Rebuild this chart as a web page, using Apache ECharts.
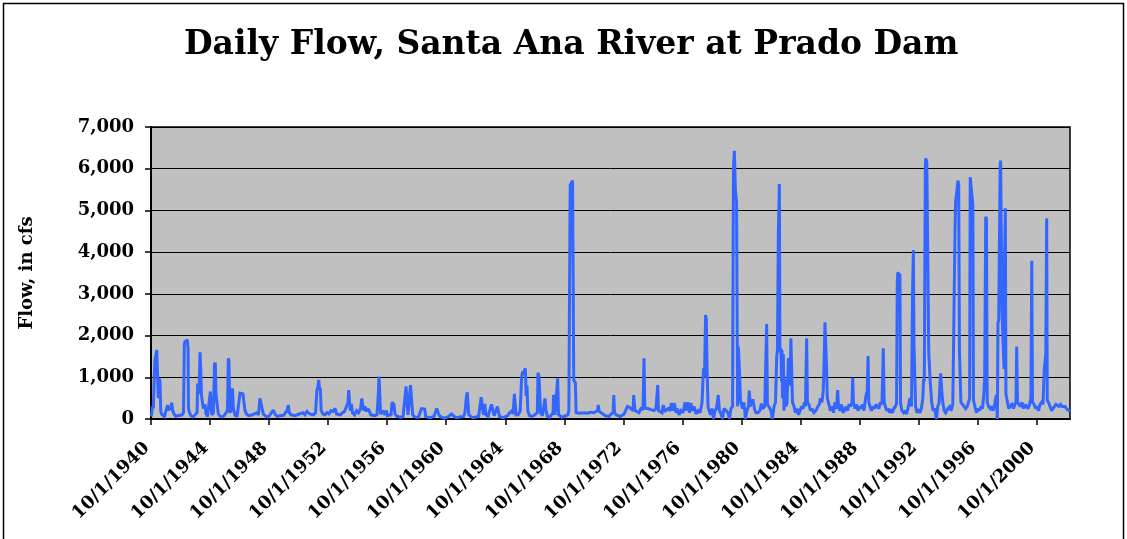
<!DOCTYPE html>
<html>
<head>
<meta charset="utf-8">
<script src="https://cdn.jsdelivr.net/npm/echarts@6/dist/echarts.min.js"></script>
<style>
html,body{margin:0;padding:0;background:#fff;}
#c{width:1127px;height:539px;}
</style>
</head>
<body>
<div id="c"></div>
<script>
// ---- Data: [decimal year, daily flow in cfs] ----
const flow1940s = [[1940.75,60],[1940.80,120],[1940.84,300],[1940.91,250],[1940.97,1000],[1941.02,1415],[1941.08,1380],[1941.14,1655],[1941.19,1620],[1941.24,500],[1941.31,975],[1941.36,900],[1941.41,200],[1941.46,120],[1941.56,80],[1941.66,60],[1941.77,100],[1941.87,335],[1941.94,200],[1942.00,280],[1942.07,220],[1942.15,390],[1942.22,200],[1942.31,120],[1942.44,60],[1942.58,80],[1942.71,50],[1942.85,100],[1942.95,150],[1943.01,1800],[1943.05,1855],[1943.12,1820],[1943.21,1895],[1943.26,1700],[1943.29,255],[1943.36,150],[1943.46,80],[1943.60,50],[1943.73,80],[1943.87,150],[1943.91,850],[1943.95,870],[1944.01,600],[1944.07,1600],[1944.12,1200],[1944.17,560],[1944.25,535],[1944.30,250],[1944.41,350],[1944.48,120],[1944.58,60],[1944.68,80],[1944.77,655],[1944.81,640],[1944.87,100],[1944.98,150],[1945.05,1300],[1945.11,1350],[1945.15,600],[1945.24,575],[1945.31,120],[1945.42,70],[1945.56,50],[1945.70,80],[1945.83,100],[1945.93,200],[1945.99,1455],[1946.03,1400],[1946.09,150],[1946.17,200],[1946.27,735],[1946.33,250],[1946.44,100],[1946.58,60],[1946.71,100],[1946.78,620],[1946.88,630],[1946.98,600],[1947.05,630],[1947.12,200],[1947.22,120],[1947.36,80],[1947.49,60],[1947.63,100],[1947.76,80],[1947.90,150],[1948.03,100],[1948.13,495],[1948.19,400],[1948.31,445],[1948.36,120],[1948.50,70],[1948.64,50],[1948.78,80],[1948.91,100],[1949.03,215],[1949.10,200],[1949.18,100],[1949.32,60],[1949.46,80],[1949.59,50],[1949.73,90],[1949.86,120],[1949.96,200],[1950.05,335],[1950.12,150],[1950.24,100],[1950.37,60],[1950.51,80],[1950.64,100]];

const flow1950s = [[1950.78,120],[1950.91,80],[1951.05,150],[1951.18,100],[1951.32,180],[1951.41,215],[1951.49,120],[1951.62,80],[1951.76,100],[1951.90,150],[1951.99,690],[1952.05,750],[1952.11,935],[1952.17,700],[1952.22,750],[1952.28,200],[1952.40,120],[1952.54,100],[1952.67,150],[1952.81,120],[1952.94,200],[1953.08,180],[1953.22,255],[1953.32,120],[1953.45,150],[1953.59,100],[1953.72,150],[1953.86,180],[1953.99,150],[1954.10,400],[1954.14,695],[1954.20,650],[1954.25,200],[1954.33,360],[1954.40,150],[1954.54,100],[1954.68,200],[1954.81,150],[1954.95,250],[1955.03,495],[1955.08,450],[1955.15,200],[1955.25,300],[1955.35,180],[1955.44,250],[1955.53,200],[1955.64,100],[1955.77,60],[1955.92,80],[1956.06,100],[1956.15,600],[1956.20,1015],[1956.24,700],[1956.30,120],[1956.40,100],[1956.49,200],[1956.57,100],[1956.70,200],[1956.77,80],[1956.87,60],[1957.01,100],[1957.08,400],[1957.15,390],[1957.21,350],[1957.28,120],[1957.42,60],[1957.55,50],[1957.69,40],[1957.83,60],[1957.96,80],[1958.03,780],[1958.10,775],[1958.16,100],[1958.26,120],[1958.33,810],[1958.41,830],[1958.48,100],[1958.60,50],[1958.73,60],[1958.87,40],[1958.99,60],[1959.07,250],[1959.19,250],[1959.29,240],[1959.36,60],[1959.50,40],[1959.65,30],[1959.78,50],[1959.92,60],[1960.02,100],[1960.10,250],[1960.17,200],[1960.23,120],[1960.33,60],[1960.46,30],[1960.60,20],[1960.73,30]];

const flow1960s = [[1960.87,50],[1961.00,40],[1961.11,120],[1961.17,120],[1961.24,80],[1961.37,40],[1961.51,30],[1961.65,50],[1961.78,40],[1961.92,60],[1962.02,150],[1962.12,550],[1962.18,640],[1962.22,620],[1962.28,100],[1962.40,60],[1962.53,30],[1962.68,40],[1962.80,30],[1962.94,60],[1963.04,100],[1963.12,520],[1963.20,535],[1963.27,100],[1963.37,360],[1963.44,100],[1963.58,60],[1963.71,80],[1963.82,350],[1963.88,375],[1963.95,340],[1964.00,80],[1964.12,100],[1964.22,300],[1964.29,280],[1964.36,60],[1964.49,40],[1964.63,30],[1964.77,60],[1964.91,80],[1965.04,150],[1965.18,190],[1965.28,120],[1965.37,600],[1965.42,580],[1965.48,100],[1965.62,100],[1965.76,190],[1965.86,1000],[1965.93,1140],[1965.99,1060],[1966.04,1150],[1966.11,1215],[1966.17,550],[1966.22,800],[1966.28,200],[1966.39,80],[1966.53,60],[1966.67,80],[1966.80,60],[1966.92,150],[1966.97,1110],[1967.04,1000],[1967.09,1000],[1967.14,150],[1967.27,80],[1967.37,100],[1967.44,495],[1967.51,200],[1967.61,60],[1967.75,40],[1967.88,60],[1967.99,150],[1968.02,575],[1968.08,500],[1968.12,100],[1968.22,80],[1968.30,975],[1968.36,100],[1968.46,60],[1968.59,40],[1968.73,60],[1968.86,50],[1968.99,100],[1969.06,200],[1969.10,2850],[1969.15,5610],[1969.23,5600],[1969.31,5715],[1969.35,5700],[1969.39,935],[1969.45,900],[1969.50,870],[1969.55,150],[1969.67,120],[1969.81,140],[1969.94,130],[1970.08,150],[1970.21,120],[1970.35,140],[1970.49,160],[1970.62,130]];

const flow1970s = [[1970.76,150],[1970.89,120],[1971.00,200],[1971.05,335],[1971.11,180],[1971.24,150],[1971.37,120],[1971.51,80],[1971.64,100],[1971.78,60],[1971.92,120],[1972.06,150],[1972.10,575],[1972.15,150],[1972.26,100],[1972.39,80],[1972.53,60],[1972.66,100],[1972.80,120],[1972.93,150],[1973.03,300],[1973.17,280],[1973.27,250],[1973.41,200],[1973.45,575],[1973.49,550],[1973.54,200],[1973.67,230],[1973.81,150],[1973.94,250],[1974.08,220],[1974.15,1455],[1974.20,300],[1974.28,250],[1974.42,250],[1974.56,230],[1974.69,250],[1974.83,200],[1974.96,250],[1975.08,815],[1975.13,200],[1975.23,230],[1975.37,150],[1975.46,335],[1975.53,180],[1975.64,150],[1975.77,250],[1975.91,200],[1976.01,380],[1976.11,200],[1976.21,380],[1976.32,150],[1976.42,250],[1976.52,100],[1976.66,200],[1976.79,150],[1976.93,400],[1976.99,200],[1977.13,400],[1977.23,150],[1977.33,380],[1977.43,200],[1977.54,300],[1977.67,120],[1977.81,200],[1977.94,150],[1978.08,380],[1978.18,1215],[1978.25,1000],[1978.32,2490],[1978.37,2400],[1978.42,1215],[1978.49,300],[1978.56,200],[1978.66,100],[1978.76,250],[1978.86,0],[1978.96,200],[1979.06,250],[1979.18,575],[1979.26,200],[1979.37,120],[1979.47,0],[1979.57,250],[1979.71,200],[1979.84,150],[1979.94,0],[1980.04,250],[1980.15,300],[1980.21,6000],[1980.27,6430],[1980.34,5500],[1980.42,5210],[1980.49,300],[1980.54,1735],[1980.61,1200],[1980.69,430]];

const flow1980s = [[1980.75,350],[1980.82,250],[1980.92,400],[1981.02,0],[1981.12,200],[1981.23,300],[1981.28,680],[1981.34,300],[1981.43,400],[1981.53,470],[1981.63,250],[1981.73,150],[1981.87,150],[1982.00,200],[1982.10,370],[1982.18,250],[1982.33,300],[1982.46,2280],[1982.51,350],[1982.61,300],[1982.75,200],[1982.85,0],[1982.96,300],[1983.06,400],[1983.14,1500],[1983.19,1650],[1983.25,4460],[1983.32,5635],[1983.36,1600],[1983.42,1700],[1983.47,900],[1983.50,1650],[1983.53,500],[1983.59,1550],[1983.63,200],[1983.70,950],[1983.77,300],[1983.84,400],[1983.93,1455],[1983.99,1400],[1984.04,800],[1984.10,1935],[1984.16,1900],[1984.21,400],[1984.31,300],[1984.41,150],[1984.52,250],[1984.62,100],[1984.72,200],[1984.82,300],[1984.92,250],[1985.02,400],[1985.09,300],[1985.17,1935],[1985.22,400],[1985.32,350],[1985.43,200],[1985.53,250],[1985.66,150],[1985.80,200],[1985.93,300],[1986.03,350],[1986.10,500],[1986.20,400],[1986.29,650],[1986.34,1200],[1986.41,2320],[1986.51,1335],[1986.57,500],[1986.68,350],[1986.78,200],[1986.88,300],[1986.99,150],[1987.09,400],[1987.19,250],[1987.27,695],[1987.33,300],[1987.43,200],[1987.53,350],[1987.63,150],[1987.73,200],[1987.84,300],[1987.94,200],[1988.04,350],[1988.14,300],[1988.24,400],[1988.29,990],[1988.34,400],[1988.44,250],[1988.55,350],[1988.65,200],[1988.75,300],[1988.85,250],[1988.95,350],[1989.05,200],[1989.19,575],[1989.27,650],[1989.33,1510],[1989.38,400],[1989.46,300],[1989.56,200],[1989.66,300],[1989.77,250],[1989.87,350],[1989.96,300],[1990.06,250],[1990.17,400],[1990.27,350],[1990.36,1695],[1990.42,400],[1990.50,300],[1990.60,200],[1990.71,250]];

const flow1990s = [[1990.78,150],[1990.88,200],[1990.98,150],[1991.08,250],[1991.18,300],[1991.26,380],[1991.31,3300],[1991.34,3510],[1991.42,3480],[1991.49,3450],[1991.53,380],[1991.62,200],[1991.74,150],[1991.84,200],[1991.93,120],[1992.03,250],[1992.17,500],[1992.27,300],[1992.34,3000],[1992.40,4050],[1992.44,1800],[1992.51,1775],[1992.55,300],[1992.64,150],[1992.74,200],[1992.84,150],[1992.94,250],[1993.04,500],[1993.09,950],[1993.14,900],[1993.21,6100],[1993.24,6250],[1993.31,6150],[1993.40,6145],[1993.44,1600],[1993.54,900],[1993.64,400],[1993.74,200],[1993.84,250],[1993.96,0],[1994.05,300],[1994.14,380],[1994.21,900],[1994.25,1095],[1994.32,700],[1994.39,400],[1994.49,200],[1994.59,150],[1994.73,250],[1994.86,300],[1994.96,200],[1995.07,350],[1995.17,380],[1995.22,4500],[1995.26,5185],[1995.34,5200],[1995.42,5715],[1995.47,5600],[1995.52,1640],[1995.57,1640],[1995.62,400],[1995.73,350],[1995.84,380],[1995.94,250],[1996.04,300],[1996.14,400],[1996.21,500],[1996.25,5795],[1996.31,5750],[1996.43,5130],[1996.47,450],[1996.57,300],[1996.67,150],[1996.77,250],[1996.87,200],[1996.98,300],[1997.08,250],[1997.17,575],[1997.23,1000],[1997.30,4850],[1997.35,4800],[1997.40,400],[1997.50,300],[1997.60,250],[1997.70,300],[1997.80,200],[1997.91,350],[1998.01,575],[1998.09,0],[1998.13,2300],[1998.18,2370],[1998.23,2400],[1998.28,6100],[1998.31,6195],[1998.35,6150],[1998.40,2610],[1998.46,2600],[1998.54,1200],[1998.58,4000],[1998.63,5050],[1998.67,600],[1998.75,450],[1998.85,250],[1998.98,300],[1999.08,380],[1999.18,250],[1999.28,350],[1999.35,400],[1999.40,1735],[1999.45,400],[1999.55,350],[1999.66,300],[1999.76,400],[1999.86,250],[1999.96,350],[2000.06,300],[2000.17,250],[2000.27,350],[2000.36,500],[2000.42,3795],[2000.47,400],[2000.58,350],[2000.68,250],[2000.78,300],[2000.88,200],[2000.98,350],[2001.08,400],[2001.18,350],[2001.27,1215],[2001.32,1200],[2001.37,1550],[2001.43,4810],[2001.47,450],[2001.55,400],[2001.66,300],[2001.76,200],[2001.86,250],[2001.96,300],[2002.06,350],[2002.18,380],[2002.26,300],[2002.37,350],[2002.47,300],[2002.57,280],[2002.67,300],[2002.77,250],[2002.87,220],[2003.01,180]];

const startYear = 1940.75;   // 10/1/1940
const endYear = 2003.01;
const xTickYears = [1940,1944,1948,1952,1956,1960,1964,1968,1972,1976,1980,1984,1988,1992,1996,2000];
const yTicks = [0,1000,2000,3000,4000,5000,6000,7000];

const allFlow = [].concat(flow1940s, flow1950s, flow1960s, flow1970s, flow1980s, flow1990s)
  .map(p => [p[0] - startYear, p[1]]);
const xTickVals = xTickYears.map(y => y - 1940);

const serif = 'DejaVu Serif';
const chart = echarts.init(document.getElementById('c'), null, {renderer: 'canvas'});
chart.setOption({
  animation: false,
  backgroundColor: '#ffffff',
  title: {
    text: 'Daily Flow, Santa Ana River at Prado Dam',
    left: 179,
    top: 24,
    textStyle: {fontFamily: serif, fontWeight: 'bold', fontSize: 33, color: '#000'}
  },
  graphic: [{
    type: 'rect', shape: {x: 3.5, y: 3.5, width: 1120, height: 560},
    style: {fill: 'none', stroke: '#000', lineWidth: 1.5}, silent: true, z: 100
  }],
  grid: {
    left: 151, top: 127, right: 57, bottom: 120,
    show: true, backgroundColor: '#C0C0C0', borderColor: '#000', borderWidth: 1.5
  },
  xAxis: {
    type: 'value', min: 0, max: endYear - startYear, interval: 4,
    axisLine: {show: true, onZero: false, lineStyle: {color: '#000', width: 2}},
    axisTick: {show: true, customValues: xTickVals, length: 6, lineStyle: {color: '#000', width: 1.5}},
    splitLine: {show: false},
    axisLabel: {
      customValues: xTickVals,
      rotate: 45, margin: 22, padding: [0, 6, 0, 0],
      fontFamily: serif, fontWeight: 'bold', fontSize: 18, color: '#000',
      formatter: v => '10/1/' + Math.round(1940 + v)
    }
  },
  yAxis: {
    type: 'value', min: 0, max: 7000, interval: 1000,
    name: 'Flow, in cfs', nameLocation: 'middle', nameGap: 115, nameRotate: 90,
    nameTextStyle: {fontFamily: serif, fontWeight: 'bold', fontSize: 18, color: '#000'},
    axisLine: {show: true, lineStyle: {color: '#000', width: 2}},
    axisTick: {show: true, length: 6, lineStyle: {color: '#000', width: 1.5}},
    splitLine: {show: true, lineStyle: {color: '#000', width: 1}},
    axisLabel: {
      margin: 17, fontFamily: serif, fontWeight: 'bold', fontSize: 18, color: '#000',
      formatter: v => v.toLocaleString('en-US')
    }
  },
  series: [{
    type: 'line', data: allFlow, showSymbol: false, symbol: 'none',
    smooth: false, sampling: null, clip: true,
    lineStyle: {color: '#3366FF', width: 3, join: 'miter', miterLimit: 2},
    z: 3
  }]
});
</script>
</body>
</html>
